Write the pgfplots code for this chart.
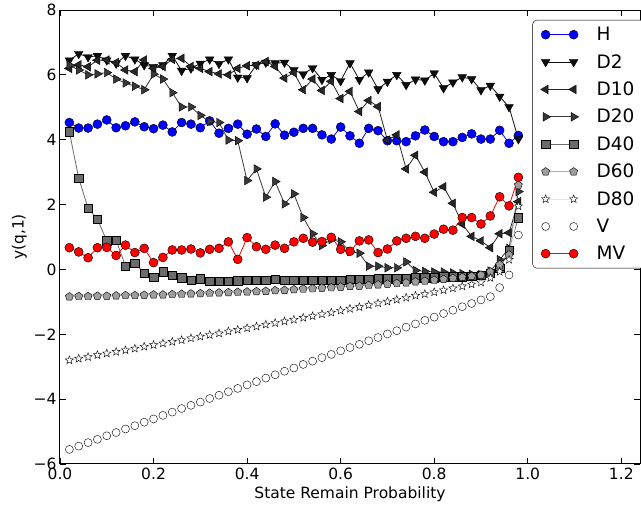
\documentclass[border=0pt]{standalone}
\usepackage{fontspec}
\setmainfont{DejaVu Sans}
\usepackage{pgfplots}
\usepackage{pgfplotstable}
\pgfplotsset{compat=1.18}
\usetikzlibrary{plotmarks}

% filled five-pointed star (matplotlib '*')
\pgfdeclareplotmark{fstar}{%
  \pgfpathmoveto{\pgfpointpolar{90}{\pgfplotmarksize}}%
  \pgfpathlineto{\pgfpointpolar{126}{0.42\pgfplotmarksize}}%
  \pgfpathlineto{\pgfpointpolar{162}{\pgfplotmarksize}}%
  \pgfpathlineto{\pgfpointpolar{198}{0.42\pgfplotmarksize}}%
  \pgfpathlineto{\pgfpointpolar{234}{\pgfplotmarksize}}%
  \pgfpathlineto{\pgfpointpolar{270}{0.42\pgfplotmarksize}}%
  \pgfpathlineto{\pgfpointpolar{306}{\pgfplotmarksize}}%
  \pgfpathlineto{\pgfpointpolar{342}{0.42\pgfplotmarksize}}%
  \pgfpathlineto{\pgfpointpolar{18}{\pgfplotmarksize}}%
  \pgfpathlineto{\pgfpointpolar{54}{0.42\pgfplotmarksize}}%
  \pgfpathclose
  \pgfusepathqfillstroke}

\pgfplotstableread{
x     H     D2    D10   D20   D40   D60   D80   V     MV
0.02  4.53  6.45  6.20  6.30  4.25  -0.84 -2.80 -5.55 0.67
0.04  4.36  6.65  6.31  6.15  2.81  -0.83 -2.75 -5.45 0.54
0.06  4.36  6.55  6.25  6.00  1.89  -0.83 -2.70 -5.34 0.36
0.08  4.48  6.59  6.45  6.03  1.55  -0.82 -2.64 -5.24 0.67
0.10  4.61  6.45  6.46  6.07  0.88  -0.82 -2.59 -5.13 0.68
0.12  4.37  6.35  6.38  5.87  0.91  -0.81 -2.54 -5.03 0.43
0.14  4.43  6.59  6.15  5.75  0.10  -0.80 -2.49 -4.92 0.75
0.16  4.55  6.48  6.10  5.65  0.19  -0.80 -2.44 -4.82 0.52
0.18  4.40  6.30  6.46  5.54  -0.12 -0.79 -2.38 -4.71 0.65
0.20  4.34  6.25  6.20  6.02  -0.24 -0.78 -2.33 -4.61 0.21
0.22  4.45  6.30  6.26  5.87  -0.07 -0.78 -2.28 -4.50 0.37
0.24  4.24  6.59  6.48  5.45  -0.18 -0.77 -2.23 -4.40 0.60
0.26  4.53  6.13  6.51  5.01  -0.26 -0.76 -2.18 -4.29 0.60
0.28  4.48  6.20  6.26  5.01  -0.33 -0.75 -2.12 -4.19 0.63
0.30  4.37  6.35  6.20  4.75  -0.29 -0.74 -2.07 -4.09 0.51
0.32  4.58  6.48  6.10  4.56  -0.36 -0.73 -2.02 -3.98 0.62
0.34  4.20  6.34  6.03  4.53  -0.36 -0.72 -1.97 -3.88 0.65
0.36  4.35  6.48  6.00  3.99  -0.36 -0.71 -1.91 -3.77 0.85
0.38  4.48  5.92  6.20  3.97  -0.35 -0.70 -1.86 -3.67 0.31
0.40  4.17  5.90  6.28  2.74  -0.34 -0.69 -1.81 -3.56 0.98
0.42  4.33  6.31  6.30  3.10  -0.34 -0.68 -1.76 -3.46 0.70
0.44  4.10  6.38  6.41  2.23  -0.34 -0.67 -1.70 -3.35 0.62
0.46  4.49  6.36  6.26  2.71  -0.30 -0.65 -1.65 -3.25 0.75
0.48  4.14  6.38  5.90  2.02  -0.33 -0.64 -1.60 -3.14 0.65
0.50  4.23  6.15  6.07  2.33  -0.33 -0.62 -1.55 -3.04 0.85
0.52  4.35  6.02  5.54  1.60  -0.33 -0.60 -1.49 -2.93 0.96
0.54  4.35  6.21  5.87  1.10  -0.33 -0.59 -1.44 -2.83 0.84
0.56  4.15  5.85  5.52  0.74  -0.33 -0.57 -1.38 -2.72 0.86
0.58  4.02  6.00  5.80  0.92  -0.33 -0.56 -1.33 -2.62 0.99
0.60  4.39  5.81  5.27  0.85  -0.33 -0.54 -1.27 -2.51 0.62
0.62  4.12  6.36  5.49  0.55  -0.31 -0.52 -1.21 -2.41 0.56
0.64  3.89  5.85  4.87  0.50  -0.31 -0.51 -1.16 -2.31 0.88
0.66  4.35  6.08  5.21  0.10  -0.31 -0.49 -1.10 -2.20 0.91
0.68  4.28  5.56  5.02  0.10  -0.28 -0.47 -1.04 -2.10 0.52
0.70  3.97  5.79  3.99  0.05  -0.28 -0.45 -0.99 -1.99 0.63
0.72  3.97  6.00  4.15  0.05  -0.28 -0.43 -0.93 -1.89 0.88
0.74  3.94  5.69  3.10  0.23  -0.28 -0.41 -0.87 -1.78 0.96
0.76  4.12  5.86  3.52  -0.03 -0.26 -0.38 -0.81 -1.68 1.02
0.78  4.30  5.83  3.00  -0.06 -0.25 -0.36 -0.76 -1.57 0.96
0.80  4.10  6.05  2.38  -0.08 -0.25 -0.33 -0.70 -1.47 1.09
0.82  3.94  5.59  2.55  -0.08 -0.23 -0.30 -0.64 -1.36 1.24
0.84  3.94  5.77  2.04  -0.11 -0.23 -0.27 -0.58 -1.26 1.21
0.86  4.07  5.93  1.40  -0.13 -0.23 -0.24 -0.52 -1.15 1.60
0.88  4.18  5.87  1.02  -0.15 -0.21 -0.21 -0.46 -1.05 1.60
0.90  4.02  5.53  0.88  -0.16 -0.17 -0.17 -0.40 -0.94 1.40
0.92  4.02  5.67  0.67  -0.05 -0.12 -0.07 -0.26 -0.84 1.65
0.94  4.29  5.33  1.10  0.30  0.03  0.15  -0.07 -0.56 2.24
0.96  3.89  5.01  1.13  0.65  0.60  0.45  0.30  -0.17 1.96
0.98  4.13  4.02  2.09  2.40  1.60  2.60  1.95  1.06  2.84
}\datatable

\definecolor{cD2}{gray}{0.05}
\definecolor{cD10}{gray}{0.15}
\definecolor{cD20}{gray}{0.22}
\definecolor{cD40}{gray}{0.42}
\definecolor{cD60}{gray}{0.62}
\definecolor{lD60}{gray}{0.7}
\definecolor{lD80}{gray}{0.9}

\begin{document}
\begin{tikzpicture}
\useasboundingbox (-60pt,-44pt) rectangle (581pt,464pt);
\begin{axis}[
  at={(0pt,0pt)}, anchor=south west,
  scale only axis, width=580pt, height=454pt,
  xmin=0, xmax=1.24, ymin=-6, ymax=8,
  xtick={0,0.2,0.4,0.6,0.8,1.0,1.2},
  xticklabels={0.0,0.2,0.4,0.6,0.8,1.0,1.2},
  ytick={-6,-4,-2,0,2,4,6,8},
  yticklabels={−6,−4,−2,0,2,4,6,8},
  tick align=inside, major tick length=6pt,
  tick style={black, line width=0.8pt},
  axis line style={line width=1pt},
  ticklabel style={font=\fontsize{15.5}{17}\selectfont},
  label style={font=\fontsize{15.5}{17}\selectfont},
  xlabel={State Remain Probability},
  xlabel style={yshift=-1pt},
  ylabel={y(q,1)},
  legend style={at={(rel axis cs:1.008,0.978)}, anchor=north east,
    draw=black, rounded corners=4pt, font=\fontsize{18.5}{20}\selectfont,
    inner xsep=8pt, inner ysep=5pt, row sep=8.2pt,
    /tikz/every odd column/.append style={column sep=16pt}},
  legend cell align=left,
  legend image code/.code={\draw plot coordinates {(0pt,0pt) (28pt,0pt)};},
  every axis plot/.append style={line width=0.8pt},
]
\addplot[blue, mark=*, mark size=4.5pt, mark options={fill=blue, draw=black, line width=0.4pt}]
  table[x=x, y=H]{\datatable};
\addlegendentry{H}
\addplot[cD2, mark=triangle*, mark size=5pt, mark options={rotate=180, fill=cD2, draw=black, line width=0.4pt}]
  table[x=x, y=D2]{\datatable};
\addlegendentry{D2}
\addplot[cD10, mark=triangle*, mark size=5pt, mark options={rotate=90, fill=cD10, draw=black, line width=0.4pt}]
  table[x=x, y=D10]{\datatable};
\addlegendentry{D10}
\addplot[cD20, mark=triangle*, mark size=5pt, mark options={rotate=-90, fill=cD20, draw=black, line width=0.4pt}]
  table[x=x, y=D20]{\datatable};
\addlegendentry{D20}
\addplot[cD40, mark=square*, mark size=4.2pt, mark options={fill=cD40, draw=black, line width=0.4pt}]
  table[x=x, y=D40]{\datatable};
\addlegendentry{D40}
\addplot[lD60, mark=pentagon*, mark size=4.2pt, mark options={fill=cD60, draw=black, line width=0.4pt}]
  table[x=x, y=D60]{\datatable};
\addlegendentry{D60}
\addplot[lD80, mark=fstar, mark size=4.3pt, mark options={fill=white, draw=black, line width=0.4pt}]
  table[x=x, y=D80]{\datatable};
\addlegendentry{D80}
\addplot[white, mark=*, mark size=4pt, mark options={fill=white, draw=black, line width=0.4pt}]
  table[x=x, y=V]{\datatable};
\addlegendentry{V}
\addplot[red, mark=*, mark size=4.5pt, mark options={fill=red, draw=black, line width=0.4pt}]
  table[x=x, y=MV]{\datatable};
\addlegendentry{MV}
\end{axis}
\end{tikzpicture}
\end{document}
